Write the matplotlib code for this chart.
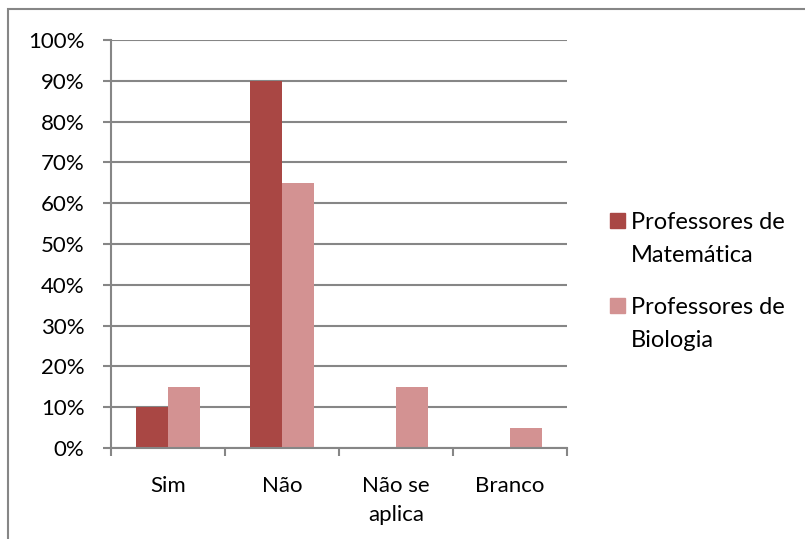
import matplotlib.pyplot as plt
import matplotlib.patches as patches
import numpy as np

categories = ["Sim", "Não", "Não se\naplica", "Branco"]
matematica = [10, 90, 0, 0]
biologia = [15, 65, 15, 5]
series_names = ["Professores de\nMatemática", "Professores de\nBiologia"]
yticks = [0, 10, 20, 30, 40, 50, 60, 70, 80, 90, 100]

plt.rcParams['font.family'] = ['Lato', 'DejaVu Sans']

W, H = 805, 539
fig = plt.figure(figsize=(W / 100, H / 100), dpi=100)
ax = fig.add_axes([111/W, 1-448/H, (567-111)/W, (448-40)/H])

grey = "#868686"
dark = "#A94744"
light = "#D39292"
colors = [dark, light]
fs = 16
x = np.arange(len(categories))
w = 0.285

ax.bar(x - w/2, matematica, w, color=dark, zorder=3)
ax.bar(x + w/2, biologia, w, color=light, zorder=3)

ax.set_xlim(-0.5, len(categories) - 0.5)
ax.set_ylim(0, 100)
ax.set_yticks(yticks)
ax.set_yticklabels(["%d%%" % v for v in yticks])
ax.set_xticks(x)
ax.set_xticklabels(categories, linespacing=1.55)
ax.set_xticks(np.arange(len(categories) + 1) - 0.5, minor=True)
ax.tick_params(axis='x', which='major', length=0, pad=20, labelsize=fs)
ax.tick_params(axis='x', which='minor', length=6, width=1.5, color=grey)
ax.tick_params(axis='y', length=6, width=1.5, color=grey, labelsize=fs, pad=13)
ax.grid(axis='y', color=grey, linewidth=1.5, zorder=0)

for s in ["top", "right"]:
    ax.spines[s].set_visible(False)
for s in ["left", "bottom"]:
    ax.spines[s].set_color(grey)
    ax.spines[s].set_linewidth(1.5)
ax.spines["bottom"].set_zorder(4)

# legend drawn by hand so the swatch sits on the first text line
for i, (name, c) in enumerate(zip(series_names, colors)):
    yc = 221 + i * 85
    fig.add_artist(patches.Rectangle((610/W, 1 - (yc + 7)/H), 15/W, 15/H,
                                     transform=fig.transFigure, color=c))
    fig.text(631/W, 1 - (yc - 9)/H, name, fontsize=fs + 1, va='top', ha='left',
             linespacing=1.7)

border = patches.Rectangle((8/W, -0.1), 1.2, 1 - 9/H + 0.1, transform=fig.transFigure,
                           fill=False, edgecolor=grey, linewidth=1.5)
fig.patches.append(border)

fig.savefig("out.png", dpi=100)
